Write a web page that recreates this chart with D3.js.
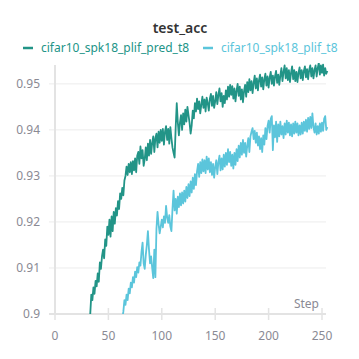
<!DOCTYPE html>
<html>
<head>
<meta charset="utf-8">
<script src="https://cdn.jsdelivr.net/npm/d3@7"></script>
<style>
  html, body { margin: 0; padding: 0; background: #fff; }
  svg { display: block; font-family: 'Noto Sans', 'Open Sans', sans-serif; }
</style>
</head>
<body>
<div id="chart"></div>
<script>
const title = 'test_acc';
const seriesNames = ['cifar10_spk18_plif_pred_t8', 'cifar10_spk18_plif_t8'];
const seriesColors = ['#229487', '#5bc5db'];
const xTicks = [0, 50, 100, 150, 200, 250];
const yTicks = [0.9, 0.91, 0.92, 0.93, 0.94, 0.95];

// pred run, steps 32..255
const predStart = 32;
const predValues = [
  0.8975, 0.9000, 0.9042, 0.9030, 0.9058, 0.9044, 0.9072, 0.9060, 0.9088, 0.9070,
  0.9112, 0.9098, 0.9125, 0.9140, 0.9121, 0.9162, 0.9148, 0.9190, 0.9172, 0.9205,
  0.9168, 0.9212, 0.9180, 0.9222, 0.9196, 0.9230, 0.9214, 0.9245, 0.9228, 0.9262,
  0.9250, 0.9274, 0.9258, 0.9290,
  0.9300, 0.9320, 0.9302, 0.9326, 0.9308, 0.9330, 0.9304, 0.9332, 0.9312, 0.9338,
  0.9308, 0.9344, 0.9352, 0.9326, 0.9364, 0.9338, 0.9356, 0.9322, 0.9336, 0.9362,
  0.9334, 0.9370, 0.9344, 0.9378, 0.9348, 0.9372, 0.9386, 0.9352, 0.9382, 0.9392,
  0.9362, 0.9396, 0.9372, 0.9400, 0.9376, 0.9402, 0.9368, 0.9396, 0.9408, 0.9378,
  0.9402, 0.9370, 0.9406, 0.9382, 0.9362, 0.9350, 0.9340, 0.9405, 0.9458, 0.9416,
  0.9388, 0.9416, 0.9432, 0.9400, 0.9436, 0.9412, 0.9444, 0.9418, 0.9450,
  0.9432, 0.9415, 0.9392, 0.9410, 0.9442, 0.9425, 0.9458, 0.9440, 0.9468, 0.9445,
  0.9462, 0.9436, 0.9455, 0.9472, 0.9448, 0.9466, 0.9440, 0.9470, 0.9458, 0.9442,
  0.9468, 0.9478, 0.9452, 0.9474, 0.9448, 0.9462, 0.9482, 0.9456, 0.9476, 0.9490,
  0.9462, 0.9480, 0.9450, 0.9474, 0.9458, 0.9486, 0.9466, 0.9494, 0.9472, 0.9498,
  0.9476, 0.9495, 0.9468, 0.9490, 0.9462, 0.9485, 0.9500, 0.9474, 0.9494, 0.9466,
  0.9488, 0.9460, 0.9484, 0.9498, 0.9472, 0.9504, 0.9482, 0.9510, 0.9486, 0.9506,
  0.9480, 0.9502, 0.9518, 0.9490, 0.9512, 0.9486, 0.9508, 0.9520, 0.9494, 0.9514,
  0.9488, 0.9510, 0.9522, 0.9496, 0.9516, 0.9492, 0.9514, 0.9526, 0.9500, 0.9518,
  0.9496, 0.9516, 0.9528, 0.9502, 0.9520, 0.9498, 0.9518, 0.9534, 0.9506, 0.9526,
  0.9540, 0.9512, 0.9534, 0.9508, 0.9530, 0.9504, 0.9524, 0.9538, 0.9510, 0.9530,
  0.9506, 0.9526, 0.9504, 0.9524, 0.9536, 0.9512, 0.9530, 0.9508, 0.9528, 0.9538,
  0.9514, 0.9532, 0.9510, 0.9530, 0.9540, 0.9516, 0.9534, 0.9512, 0.9530, 0.9540,
  0.9516, 0.9534, 0.9546, 0.9520, 0.9540, 0.9524, 0.9542, 0.9518, 0.9534, 0.9522,
  0.9528
];

// plain run, steps 62..255
const plifStart = 62;
const plifValues = [
  0.8965, 0.8990, 0.9005, 0.9030, 0.9020, 0.9042, 0.9030, 0.9055, 0.9045, 0.9068,
  0.9058, 0.9080, 0.9068, 0.9092, 0.9080, 0.9102, 0.9090, 0.9112, 0.9105, 0.9135,
  0.9155, 0.9110, 0.9098, 0.9128, 0.9150, 0.9180, 0.9140, 0.9110, 0.9125, 0.9100,
  0.9078, 0.9140, 0.9080, 0.9185, 0.9222, 0.9195, 0.9175, 0.9190, 0.9205, 0.9188,
  0.9212, 0.9198, 0.9235, 0.9210, 0.9198, 0.9215, 0.9190, 0.9180, 0.9228, 0.9268,
  0.9225, 0.9250, 0.9218, 0.9255, 0.9232, 0.9262, 0.9236, 0.9264, 0.9240, 0.9268,
  0.9244, 0.9276, 0.9252, 0.9282, 0.9256, 0.9288, 0.9264, 0.9296, 0.9272, 0.9304,
  0.9280, 0.9310, 0.9326, 0.9298, 0.9330, 0.9306, 0.9336, 0.9310, 0.9334, 0.9306,
  0.9342, 0.9314, 0.9338, 0.9308, 0.9330, 0.9302, 0.9326, 0.9296, 0.9320, 0.9334,
  0.9304, 0.9330, 0.9344, 0.9312, 0.9338, 0.9314, 0.9346, 0.9320, 0.9350, 0.9324,
  0.9358, 0.9330, 0.9352, 0.9322, 0.9346, 0.9316, 0.9350, 0.9324, 0.9358, 0.9332,
  0.9366, 0.9340, 0.9372, 0.9346, 0.9378, 0.9350, 0.9372, 0.9342, 0.9366, 0.9382,
  0.9352, 0.9386, 0.9396, 0.9404, 0.9380, 0.9398, 0.9372, 0.9394, 0.9366, 0.9386,
  0.9358, 0.9382, 0.9352, 0.9388, 0.9368, 0.9404, 0.9380, 0.9408, 0.9420, 0.9394,
  0.9424, 0.9430, 0.9356, 0.9410, 0.9384, 0.9418, 0.9374, 0.9412, 0.9386, 0.9418,
  0.9390, 0.9408, 0.9382, 0.9414, 0.9390, 0.9420, 0.9394, 0.9416, 0.9388, 0.9412,
  0.9386, 0.9414, 0.9392, 0.9418, 0.9394, 0.9414, 0.9388, 0.9410, 0.9390, 0.9416,
  0.9392, 0.9418, 0.9398, 0.9422, 0.9396, 0.9426, 0.9402, 0.9428, 0.9404, 0.9436,
  0.9406, 0.9394, 0.9414, 0.9390, 0.9408, 0.9392, 0.9414, 0.9396, 0.9416, 0.9398,
  0.9424, 0.9430, 0.9400, 0.9406
];

const width = 359, height = 359;
const plot = { left: 55, right: 322, top: 65, bottom: 314 };

const svg = d3.select('#chart')
  .append('svg')
  .attr('width', width)
  .attr('height', height);

const x = d3.scaleLinear()
  .domain([0, 250])
  .range([plot.left, plot.right]);

const y = d3.scaleLinear()
  .domain([0.9, 0.9541])
  .range([plot.bottom, plot.top]);

// gridlines
svg.append('g')
  .selectAll('line')
  .data(yTicks.slice(1))
  .enter()
  .append('line')
  .attr('x1', plot.left - 6)
  .attr('x2', plot.right + 4)
  .attr('y1', d => y(d))
  .attr('y2', d => y(d))
  .attr('stroke', '#ececec')
  .attr('stroke-width', 1);

// x tick marks
svg.append('g')
  .selectAll('line')
  .data(xTicks)
  .enter()
  .append('line')
  .attr('x1', d => x(d))
  .attr('x2', d => x(d))
  .attr('y1', plot.bottom - 6)
  .attr('y2', plot.bottom + 6)
  .attr('stroke', '#e3e3e3')
  .attr('stroke-width', 1.5);

// axis lines
svg.append('line')
  .attr('x1', plot.left).attr('x2', plot.left)
  .attr('y1', plot.top).attr('y2', plot.bottom)
  .attr('stroke', '#e3e3e3').attr('stroke-width', 2);

svg.append('line')
  .attr('x1', plot.left - 6).attr('x2', plot.right + 4)
  .attr('y1', plot.bottom).attr('y2', plot.bottom)
  .attr('stroke', '#e3e3e3').attr('stroke-width', 2);

// tick labels
svg.append('g')
  .selectAll('text')
  .data(yTicks)
  .enter()
  .append('text')
  .attr('x', 40)
  .attr('y', d => y(d) + 4)
  .attr('text-anchor', 'end')
  .style('font-size', '12px')
  .style('fill', '#8a8a94')
  .text(d => d === 0.9 ? '0.9' : d3.format('.2f')(d));

svg.append('g')
  .selectAll('text')
  .data(xTicks)
  .enter()
  .append('text')
  .attr('x', d => x(d))
  .attr('y', 340)
  .attr('text-anchor', 'middle')
  .style('font-size', '12px')
  .style('fill', '#8a8a94')
  .text(d => d);

svg.append('text')
  .attr('x', 319)
  .attr('y', 308)
  .attr('text-anchor', 'end')
  .style('font-size', '12px')
  .style('fill', '#8a8a94')
  .text('Step');

// lines
svg.append('clipPath')
  .attr('id', 'plot-clip')
  .append('rect')
  .attr('x', plot.left)
  .attr('y', plot.top - 2)
  .attr('width', plot.right - plot.left + 10)
  .attr('height', plot.bottom - plot.top + 2);

const line = d3.line()
  .x(d => x(d.step))
  .y(d => y(d.value));

const series = [
  { name: seriesNames[1], color: seriesColors[1], start: plifStart, values: plifValues },
  { name: seriesNames[0], color: seriesColors[0], start: predStart, values: predValues }
];

series.forEach(s => {
  const pts = s.values.map((v, i) => ({ step: s.start + i, value: v }));
  svg.append('path')
    .datum(pts)
    .attr('clip-path', 'url(#plot-clip)')
    .attr('fill', 'none')
    .attr('stroke', s.color)
    .attr('stroke-width', 1.8)
    .attr('stroke-linejoin', 'round')
    .attr('d', line);
});

// title + legend
svg.append('text')
  .attr('x', 180)
  .attr('y', 33)
  .attr('text-anchor', 'middle')
  .style('font-size', '14px')
  .style('font-weight', 600)
  .style('fill', '#333')
  .text(title);

const legendX = [23, 203];
seriesNames.forEach((name, i) => {
  const g = svg.append('g').attr('transform', `translate(${legendX[i]},0)`);
  g.append('line')
    .attr('x1', 0).attr('x2', 10)
    .attr('y1', 48).attr('y2', 48)
    .attr('stroke', seriesColors[i])
    .attr('stroke-width', 2.5);
  g.append('text')
    .attr('x', 18)
    .attr('y', 52)
    .style('font-size', '12px')
    .style('fill', seriesColors[i])
    .text(name);
});
</script>
</body>
</html>
